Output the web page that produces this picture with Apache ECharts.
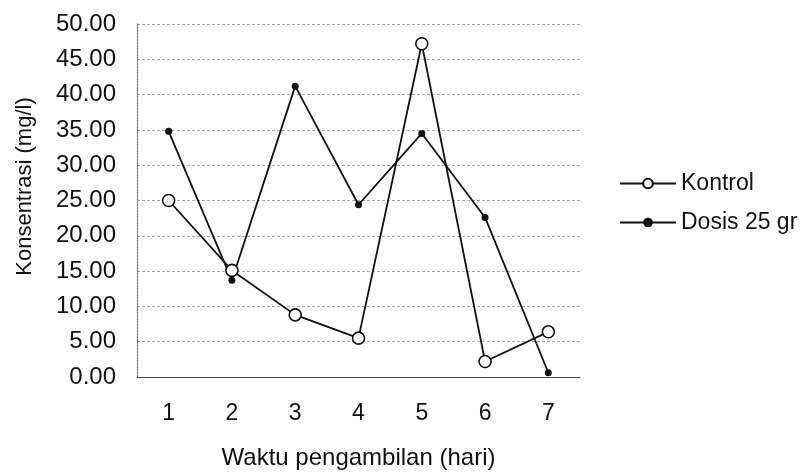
<!DOCTYPE html>
<html><head><meta charset="utf-8">
<script src="https://cdn.jsdelivr.net/npm/echarts@6/dist/echarts.min.js"></script>
<style>html,body{margin:0;padding:0;background:#fff}#c{width:804px;height:475px}</style>
</head><body><div id="c"></div>
<script>
const categories = ['1','2','3','4','5','6','7'];
const kontrol = [25.0, 15.1, 8.8, 5.5, 47.2, 2.2, 6.4];
const dosis = [34.8, 13.7, 41.2, 24.4, 34.5, 22.6, 0.6];
const seriesNames = ['Kontrol', 'Dosis 25 gr'];

const chart = echarts.init(document.getElementById('c'), null, {renderer: 'canvas'});
const font = 'Liberation Sans, Arial, sans-serif';
chart.setOption({
  animation: false,
  backgroundColor: '#fff',
  grid: {left: 137, top: 24, width: 443, height: 358, containLabel: false},
  legend: {
    orient: 'vertical', left: 614, top: 167, itemGap: 16,
    itemWidth: 56, itemHeight: 12,
    textStyle: {fontFamily: font, fontSize: 23, color: '#111'},
    data: seriesNames
  },
  xAxis: {
    type: 'category', data: categories, boundaryGap: true,
    axisLine: {lineStyle: {color: '#444', width: 1}},
    axisTick: {show: false},
    axisLabel: {fontFamily: font, fontSize: 23, color: '#111', margin: 25},
    name: 'Waktu pengambilan (hari)', nameLocation: 'middle', nameGap: 69,
    nameTextStyle: {fontFamily: font, fontSize: 24, color: '#111'}
  },
  yAxis: {
    type: 'value', min: 0, max: 50, interval: 5,
    axisLine: {show: true, lineStyle: {color: '#666', type: [2, 1]}},
    axisTick: {show: false},
    splitLine: {lineStyle: {color: '#aaa', type: [3, 2], width: 1}},
    axisLabel: {fontFamily: font, fontSize: 24, color: '#111', margin: 21,
      formatter: v => v.toFixed(2)},
    name: 'Konsentrasi (mg/l)', nameLocation: 'middle', nameGap: 101,
    nameTextStyle: {fontFamily: font, fontSize: 22, color: '#111', padding: [0, 0, 0, 28]}
  },
  series: [
    {name: seriesNames[0], type: 'line', data: kontrol, symbol: 'circle', symbolSize: 12,
      lineStyle: {color: '#111', width: 1.8}, itemStyle: {color: '#fff', borderColor: '#111', borderWidth: 1.6},
      z: 3},
    {name: seriesNames[1], type: 'line', data: dosis, symbol: 'circle', symbolSize: 7,
      lineStyle: {color: '#111', width: 1.8}, itemStyle: {color: '#111', borderColor: '#111', borderWidth: 0},
      z: 2}
  ]
});
</script></body></html>
